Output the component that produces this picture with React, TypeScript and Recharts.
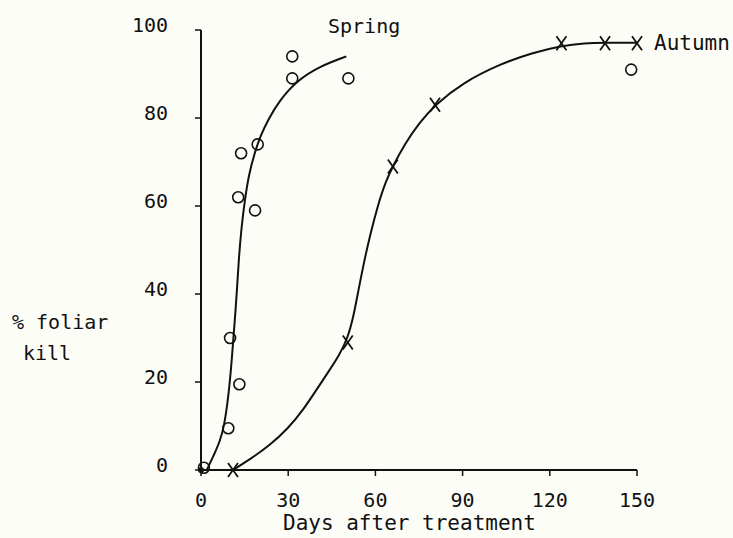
import {
  ComposedChart,
  Line,
  Scatter,
  XAxis,
  YAxis,
} from 'recharts';

// observed points (days after treatment, % foliar kill)
const springPoints = [
  { x: 1, y: 0.5 },
  { x: 9.4, y: 9.5 },
  { x: 10, y: 30 },
  { x: 13.2, y: 19.5 },
  { x: 12.8, y: 62 },
  { x: 13.8, y: 72 },
  { x: 18.6, y: 59 },
  { x: 19.5, y: 74 },
  { x: 31.4, y: 89 },
  { x: 31.4, y: 94 },
  { x: 50.7, y: 89 },
  { x: 148, y: 91 },
];

const autumnPoints = [
  { x: 11, y: 0 },
  { x: 50.5, y: 29 },
  { x: 66, y: 69 },
  { x: 80.5, y: 83 },
  { x: 124, y: 97 },
  { x: 139, y: 97 },
  { x: 150, y: 97 },
];

const originPoint = [{ x: 0, y: 0 }];

// fitted curves
const springCurve = [
  { x: 2, y: 0 },
  { x: 4.5, y: 3.5 },
  { x: 6.5, y: 6.5 },
  { x: 8, y: 10 },
  { x: 9.5, y: 17 },
  { x: 10.6, y: 25 },
  { x: 11.5, y: 33 },
  { x: 12.3, y: 40 },
  { x: 13, y: 48 },
  { x: 13.9, y: 55 },
  { x: 15, y: 61 },
  { x: 16.4, y: 67 },
  { x: 18.4, y: 72 },
  { x: 20.5, y: 76 },
  { x: 23, y: 79.5 },
  { x: 27, y: 84 },
  { x: 33, y: 88.5 },
  { x: 41, y: 91.8 },
  { x: 50, y: 94 },
];

const autumnCurve = [
  { x: 11, y: 0 },
  { x: 17, y: 2.5 },
  { x: 23.5, y: 5.5 },
  { x: 30, y: 9.5 },
  { x: 35, y: 13.5 },
  { x: 40, y: 18.5 },
  { x: 44, y: 22.5 },
  { x: 47.5, y: 26 },
  { x: 50.5, y: 30 },
  { x: 52.5, y: 35 },
  { x: 54.2, y: 41 },
  { x: 56, y: 47 },
  { x: 58.2, y: 53.5 },
  { x: 61, y: 60.5 },
  { x: 63.5, y: 65.5 },
  { x: 66, y: 69 },
  { x: 70, y: 74 },
  { x: 75, y: 78.8 },
  { x: 80.5, y: 83 },
  { x: 90, y: 88 },
  { x: 103, y: 92.3 },
  { x: 114, y: 94.8 },
  { x: 124, y: 96.4 },
  { x: 132, y: 97 },
  { x: 139, y: 97.1 },
  { x: 150, y: 97.1 },
];

const xTicks = [0, 30, 60, 90, 120, 150];
const yTicks = [0, 20, 40, 60, 80, 100];

const INK = '#111';
const FONT = '"DejaVu Sans Mono", monospace';

function CircleMark(props: any) {
  const { cx, cy } = props;
  if (cx == null || cy == null) return null;
  return <circle cx={cx} cy={cy} r={5.5} fill="none" stroke={INK} strokeWidth={1.6} />;
}

function CrossMark(props: any) {
  const { cx, cy } = props;
  if (cx == null || cy == null) return null;
  return (
    <g stroke={INK} strokeWidth={1.8}>
      <line x1={cx - 5} y1={cy - 7} x2={cx + 5} y2={cy + 7} />
      <line x1={cx + 5} y1={cy - 7} x2={cx - 5} y2={cy + 7} />
    </g>
  );
}

function DotMark(props: any) {
  const { cx, cy } = props;
  if (cx == null || cy == null) return null;
  return <circle cx={cx} cy={cy} r={3} fill={INK} />;
}

function YTick(props: any) {
  const { x, y, payload } = props;
  return (
    <text x={x + 2} y={y + 2} textAnchor="end" fontFamily={FONT} fontSize={20} fill={INK}>
      {payload.value}
    </text>
  );
}

function XTick(props: any) {
  const { x, y, payload } = props;
  return (
    <text x={x} y={y + 14.6} textAnchor="middle" fontFamily={FONT} fontSize={20} fill={INK}>
      {payload.value}
    </text>
  );
}

const textStyle = {
  position: 'absolute' as const,
  fontFamily: FONT,
  fontSize: 20,
  lineHeight: '20px',
  color: INK,
  whiteSpace: 'pre' as const,
};

export default function App() {
  return (
    <div
      style={{
        position: 'absolute',
        left: 0,
        top: 0,
        width: 733,
        height: 538,
        background: '#fdfdf8',
        overflow: 'hidden',
      }}
    >
      <ComposedChart
        width={733}
        height={538}
        margin={{ top: 30, right: 96, left: 0, bottom: 0 }}
      >
        <XAxis
          type="number"
          dataKey="x"
          domain={[0, 150]}
          ticks={xTicks}
          height={68}
          axisLine={{ stroke: INK, strokeWidth: 2 }}
          tickLine={{ stroke: INK, strokeWidth: 1.5 }}
          tickSize={6}
          tickMargin={16}
          tick={<XTick />}
        />
        <YAxis
          type="number"
          dataKey="y"
          domain={[0, 100]}
          ticks={yTicks}
          width={201}
          axisLine={{ stroke: INK, strokeWidth: 2 }}
          tickLine={{ stroke: INK, strokeWidth: 1.5 }}
          tickSize={6}
          tickMargin={29}
          tick={<YTick />}
        />
        <Line
          data={springCurve}
          dataKey="y"
          type="basis"
          stroke={INK}
          strokeWidth={2}
          dot={false}
          activeDot={false}
          isAnimationActive={false}
        />
        <Line
          data={autumnCurve}
          dataKey="y"
          type="basis"
          stroke={INK}
          strokeWidth={2}
          dot={false}
          activeDot={false}
          isAnimationActive={false}
        />
        <Scatter data={springPoints} dataKey="y" shape={<CircleMark />} isAnimationActive={false} />
        <Scatter data={autumnPoints} dataKey="y" shape={<CrossMark />} isAnimationActive={false} />
        <Scatter data={originPoint} dataKey="y" shape={<DotMark />} isAnimationActive={false} />
      </ComposedChart>

      <div style={{ ...textStyle, left: 328, top: 16 }}>Spring</div>
      <div style={{ ...textStyle, left: 654, top: 33, fontSize: 21 }}>Autumn</div>
      <div style={{ ...textStyle, left: 12, top: 312 }}>% foliar</div>
      <div style={{ ...textStyle, left: 23, top: 343 }}>kill</div>
      <div style={{ ...textStyle, left: 283, top: 513, fontSize: 21 }}>Days after treatment</div>
    </div>
  );
}
